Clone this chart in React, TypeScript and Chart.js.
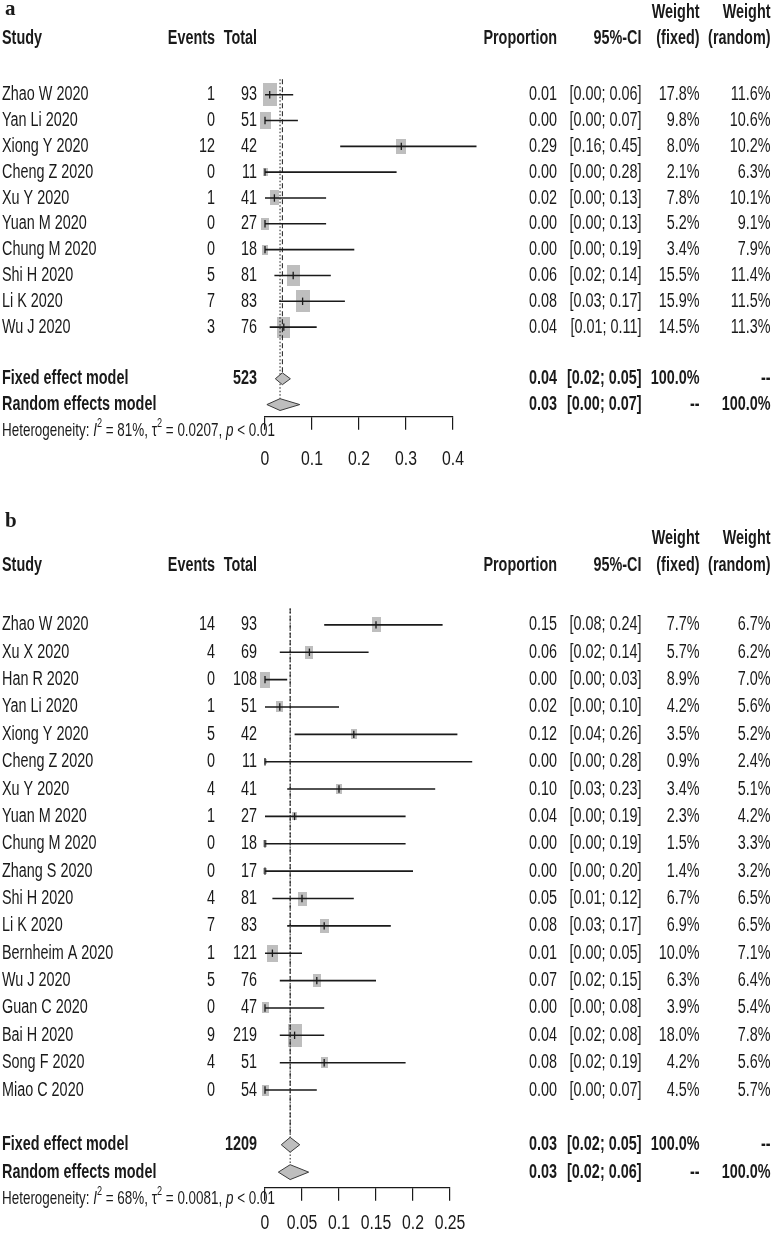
import React, { useEffect, useRef } from 'react';
import { Chart, registerables } from 'chart.js';

Chart.register(...registerables);

// ---------------- Panel a data ----------------
const STUDIES_A = ['Zhao W 2020', 'Yan Li 2020', 'Xiong Y 2020', 'Cheng Z 2020', 'Xu Y 2020', 'Yuan M 2020', 'Chung M 2020', 'Shi H 2020', 'Li K 2020', 'Wu J 2020'];
const EVENTS_A = [1, 0, 12, 0, 1, 0, 0, 5, 7, 3];
const TOTALS_A = [93, 51, 42, 11, 41, 27, 18, 81, 83, 76];
const PROP_A = [0.01, 0.0, 0.29, 0.0, 0.02, 0.0, 0.0, 0.06, 0.08, 0.04];
const LOWER_A = [0.0, 0.0, 0.16, 0.0, 0.0, 0.0, 0.0, 0.02, 0.03, 0.01];
const UPPER_A = [0.06, 0.07, 0.45, 0.28, 0.13, 0.13, 0.19, 0.14, 0.17, 0.11];
const W_FIXED_A = [17.8, 9.8, 8.0, 2.1, 7.8, 5.2, 3.4, 15.5, 15.9, 14.5];
const W_RANDOM_A = [11.6, 10.6, 10.2, 6.3, 10.1, 9.1, 7.9, 11.4, 11.5, 11.3];
const TOTAL_N_A = 523;
const FIXED_A = [0.037, 0.022, 0.054]; // estimate, lower, upper
const RANDOM_A = [0.032, 0.004, 0.074];
const HET_A = ['81%', '0.0207', '< 0.01'];
const TICKS_A = [0, 0.1, 0.2, 0.3, 0.4];
const TICK_LABELS_A = ['0', '0.1', '0.2', '0.3', '0.4'];

// ---------------- Panel b data ----------------
const STUDIES_B = ['Zhao W 2020', 'Xu X 2020', 'Han R 2020', 'Yan Li 2020', 'Xiong Y 2020', 'Cheng Z 2020', 'Xu Y 2020', 'Yuan M 2020', 'Chung M 2020', 'Zhang S 2020', 'Shi H 2020', 'Li K 2020', 'Bernheim A 2020', 'Wu J 2020', 'Guan C 2020', 'Bai H 2020', 'Song F 2020', 'Miao C 2020'];
const EVENTS_B = [14, 4, 0, 1, 5, 0, 4, 1, 0, 0, 4, 7, 1, 5, 0, 9, 4, 0];
const TOTALS_B = [93, 69, 108, 51, 42, 11, 41, 27, 18, 17, 81, 83, 121, 76, 47, 219, 51, 54];
const PROP_B = [0.15, 0.06, 0.0, 0.02, 0.12, 0.0, 0.1, 0.04, 0.0, 0.0, 0.05, 0.08, 0.01, 0.07, 0.0, 0.04, 0.08, 0.0];
const LOWER_B = [0.08, 0.02, 0.0, 0.0, 0.04, 0.0, 0.03, 0.0, 0.0, 0.0, 0.01, 0.03, 0.0, 0.02, 0.0, 0.02, 0.02, 0.0];
const UPPER_B = [0.24, 0.14, 0.03, 0.1, 0.26, 0.28, 0.23, 0.19, 0.19, 0.2, 0.12, 0.17, 0.05, 0.15, 0.08, 0.08, 0.19, 0.07];
const W_FIXED_B = [7.7, 5.7, 8.9, 4.2, 3.5, 0.9, 3.4, 2.3, 1.5, 1.4, 6.7, 6.9, 10.0, 6.3, 3.9, 18.0, 4.2, 4.5];
const W_RANDOM_B = [6.7, 6.2, 7.0, 5.6, 5.2, 2.4, 5.1, 4.2, 3.3, 3.2, 6.5, 6.5, 7.1, 6.4, 5.4, 7.8, 5.6, 5.7];
const TOTAL_N_B = 1209;
const FIXED_B = [0.034, 0.022, 0.047];
const RANDOM_B = [0.034, 0.018, 0.059];
const HET_B = ['68%', '0.0081', '< 0.01'];
const TICKS_B = [0, 0.05, 0.1, 0.15, 0.2, 0.25];
const TICK_LABELS_B = ['0', '0.05', '0.1', '0.15', '0.2', '0.25'];

// ---------------- styling / layout ----------------
const FONT = '"Liberation Sans", Arial, Helvetica, sans-serif';
const INK = '#1a1a1a';
const GRAY = '#BEBEBE';
const SX = 0.72; // horizontal squeeze of the text
const FS = 20;
const SQ_W = 14.3;
const SQ_H = 22.8;
const COL = { study: 2, events: 215, total: 257, prop: 557, ci: 641.5, wf: 699.5, wr: 770.5 };
const PLOT_LEFT = 265;

const LAYOUT_A = { height: 490, row0: 90, rowH: 26.2, axisY: 416.7, pxPerUnit: 470, head1: 12, head2: 38.5, letterY: 15, hetY: 431, tickLabelY: 459, diamondHalf: 6 };
const LAYOUT_B = { height: 750, row0: 130, rowH: 27.6, axisY: 697.7, pxPerUnit: 740, head1: 48, head2: 75.5, letterY: 37, hetY: 709, tickLabelY: 733.7, diamondHalf: 7.5 };

const PANEL_A = {
  letter: 'a', studies: STUDIES_A, events: EVENTS_A, totals: TOTALS_A, prop: PROP_A, lower: LOWER_A, upper: UPPER_A,
  wFixed: W_FIXED_A, wRandom: W_RANDOM_A, totalN: TOTAL_N_A, fixed: FIXED_A, random: RANDOM_A, het: HET_A,
  ticks: TICKS_A, tickLabels: TICK_LABELS_A, layout: LAYOUT_A,
};
const PANEL_B = {
  letter: 'b', studies: STUDIES_B, events: EVENTS_B, totals: TOTALS_B, prop: PROP_B, lower: LOWER_B, upper: UPPER_B,
  wFixed: W_FIXED_B, wRandom: W_RANDOM_B, totalN: TOTAL_N_B, fixed: FIXED_B, random: RANDOM_B, het: HET_B,
  ticks: TICKS_B, tickLabels: TICK_LABELS_B, layout: LAYOUT_B,
};

function rectImage(w: number, h: number) {
  const c = document.createElement('canvas');
  c.width = Math.max(1, Math.round(w));
  c.height = Math.max(1, Math.round(h));
  const g = c.getContext('2d') as CanvasRenderingContext2D;
  g.fillStyle = GRAY;
  g.fillRect(0, 0, c.width, c.height);
  return c;
}

function T(ctx: CanvasRenderingContext2D, s: string, x: number, y: number, align: CanvasTextAlign, bold = false, size = FS, sx = SX) {
  ctx.save();
  ctx.font = `${bold ? 'bold ' : ''}${size}px ${FONT}`;
  ctx.textAlign = align;
  ctx.textBaseline = 'middle';
  ctx.translate(x, y);
  ctx.scale(sx, 1);
  ctx.fillText(s, 0, 0);
  ctx.restore();
}

function drawRich(ctx: CanvasRenderingContext2D, parts: any[], x: number, y: number, size: number, sx: number) {
  let cx = x;
  for (const p of parts) {
    const s = p.sup ? size * 0.68 : size;
    ctx.font = `${p.italic ? 'italic ' : ''}${s}px ${FONT}`;
    const w = ctx.measureText(p.t).width * sx;
    ctx.save();
    ctx.textAlign = 'left';
    ctx.textBaseline = 'middle';
    ctx.translate(cx, y + (p.sup ? -size * 0.4 : 0));
    ctx.scale(sx, 1);
    ctx.fillText(p.t, 0, 0);
    ctx.restore();
    cx += w;
  }
}

const f2 = (v: number) => v.toFixed(2);
const pct = (v: number) => v.toFixed(1) + '%';

function makeTextPlugin(p: any) {
  return {
    id: 'forestText' + p.letter,
    afterDraw(chart: any) {
      const ctx: CanvasRenderingContext2D = chart.ctx;
      const ys = chart.scales.y;
      const xs = chart.scales.x;
      const L = p.layout;
      const n = p.studies.length;
      ctx.save();
      ctx.fillStyle = INK;
      // panel letter
      ctx.font = `bold 21px "Liberation Serif", "Times New Roman", serif`;
      ctx.textAlign = 'left';
      ctx.textBaseline = 'alphabetic';
      ctx.fillText(p.letter, 5, L.letterY);
      // header
      T(ctx, 'Weight', COL.wf, L.head1, 'right', true);
      T(ctx, 'Weight', COL.wr, L.head1, 'right', true);
      T(ctx, 'Study', COL.study, L.head2, 'left', true);
      T(ctx, 'Events', COL.events, L.head2, 'right', true);
      T(ctx, 'Total', COL.total, L.head2, 'right', true);
      T(ctx, 'Proportion', COL.prop, L.head2, 'right', true);
      T(ctx, '95%-CI', COL.ci, L.head2, 'right', true);
      T(ctx, '(fixed)', COL.wf, L.head2, 'right', true);
      T(ctx, '(random)', COL.wr, L.head2, 'right', true);
      // studies
      for (let i = 0; i < n; i++) {
        const y = ys.getPixelForValue(i);
        T(ctx, p.studies[i], COL.study, y, 'left');
        T(ctx, String(p.events[i]), COL.events, y, 'right');
        T(ctx, String(p.totals[i]), COL.total, y, 'right');
        T(ctx, f2(p.prop[i]), COL.prop, y, 'right');
        T(ctx, `[${f2(p.lower[i])}; ${f2(p.upper[i])}]`, COL.ci, y, 'right');
        T(ctx, pct(p.wFixed[i]), COL.wf, y, 'right');
        T(ctx, pct(p.wRandom[i]), COL.wr, y, 'right');
      }
      // summaries
      const yf = ys.getPixelForValue(n + 1);
      T(ctx, 'Fixed effect model', COL.study, yf, 'left', true);
      T(ctx, String(p.totalN), COL.total, yf, 'right', true);
      T(ctx, f2(p.fixed[0]), COL.prop, yf, 'right', true);
      T(ctx, `[${f2(p.fixed[1])}; ${f2(p.fixed[2])}]`, COL.ci, yf, 'right', true);
      T(ctx, '100.0%', COL.wf, yf, 'right', true);
      T(ctx, '--', COL.wr, yf, 'right', true);
      const yr = ys.getPixelForValue(n + 2);
      T(ctx, 'Random effects model', COL.study, yr, 'left', true);
      T(ctx, f2(p.random[0]), COL.prop, yr, 'right', true);
      T(ctx, `[${f2(p.random[1])}; ${f2(p.random[2])}]`, COL.ci, yr, 'right', true);
      T(ctx, '--', COL.wf, yr, 'right', true);
      T(ctx, '100.0%', COL.wr, yr, 'right', true);
      // heterogeneity
      drawRich(ctx, [
        { t: 'Heterogeneity: ' },
        { t: 'I', italic: true },
        { t: '2', sup: true },
        { t: ` = ${p.het[0]}, ` },
        { t: 'τ' },
        { t: '2', sup: true },
        { t: ` = ${p.het[1]}, ` },
        { t: 'p', italic: true },
        { t: ` ${p.het[2]}` },
      ], COL.study, L.hetY, 17.7, 0.76);
      // tick labels
      xs.ticks.forEach((t: any, k: number) => {
        T(ctx, p.tickLabels[k], xs.getPixelForValue(t.value), L.tickLabelY, 'center', false, 20.5, 0.77);
      });
      ctx.restore();
    },
  };
}

function buildConfig(p: any): any {
  const L = p.layout;
  const n = p.studies.length;
  const rowFixed = n + 1;
  const rowRandom = n + 2;
  const yMin = -L.row0 / L.rowH;
  const yMax = yMin + L.axisY / L.rowH;
  const xMax = p.ticks[p.ticks.length - 1];
  const maxW = Math.max(...p.wFixed);
  const squares = p.wFixed.map((w: number) => rectImage(SQ_W * Math.sqrt(w / maxW), SQ_H * Math.sqrt(w / maxW)));
  const ci: any[] = [];
  p.studies.forEach((_: string, i: number) => {
    ci.push({ x: p.lower[i], y: i }, { x: p.upper[i], y: i }, { x: null, y: null });
  });
  const dh = L.diamondHalf / L.rowH;
  const diamond = (s: number[], row: number) => [
    { x: s[1], y: row }, { x: s[0], y: row - dh }, { x: s[2], y: row }, { x: s[0], y: row + dh }, { x: s[1], y: row },
  ];
  const pts = p.prop.map((v: number, i: number) => ({ x: v, y: i }));
  const datasets = [
    { type: 'line', data: diamond(p.fixed, rowFixed), fill: 'shape', backgroundColor: GRAY, borderColor: '#3a3a3a', borderWidth: 1, pointRadius: 0, tension: 0, clip: false, order: 0 },
    { type: 'line', data: diamond(p.random, rowRandom), fill: 'shape', backgroundColor: GRAY, borderColor: '#3a3a3a', borderWidth: 1, pointRadius: 0, tension: 0, clip: false, order: 0 },
    { type: 'scatter', data: pts, pointStyle: 'line', rotation: 90, pointRadius: 3.7, borderColor: INK, borderWidth: 1.3, clip: false, order: 1 },
    { type: 'line', data: ci, borderColor: INK, borderWidth: 1.6, pointRadius: 0, spanGaps: false, tension: 0, fill: false, clip: false, order: 2 },
    { type: 'line', data: [{ x: p.fixed[0], y: -0.6 }, { x: p.fixed[0], y: rowFixed - dh }], borderColor: INK, borderWidth: 1, borderDash: [5, 3], pointRadius: 0, fill: false, clip: false, order: 3 },
    { type: 'line', data: [{ x: p.random[0], y: -0.6 }, { x: p.random[0], y: rowRandom - dh }], borderColor: INK, borderWidth: 1, borderDash: [1.5, 2], pointRadius: 0, fill: false, clip: false, order: 3 },
    { type: 'scatter', data: pts, pointStyle: (c: any) => squares[c.dataIndex], pointRadius: 5, clip: false, order: 4 },
  ];
  return {
    type: 'scatter',
    data: { datasets },
    options: {
      animation: false,
      responsive: false,
      maintainAspectRatio: false,
      events: [],
      layout: {
        padding: {
          left: PLOT_LEFT,
          right: 772 - PLOT_LEFT - xMax * L.pxPerUnit,
          top: 0,
          bottom: L.height - 13 - L.axisY,
        },
      },
      scales: {
        x: {
          type: 'linear',
          position: 'bottom',
          min: 0,
          max: xMax,
          afterBuildTicks: (s: any) => { s.ticks = p.ticks.map((v: number) => ({ value: v })); },
          ticks: { display: false },
          grid: { drawOnChartArea: false, drawTicks: true, tickLength: 13, color: INK, lineWidth: 1.2 },
          border: { display: true, color: INK, width: 1.2 },
        },
        y: { type: 'linear', display: false, reverse: true, min: yMin, max: yMax },
      },
      plugins: { legend: { display: false }, tooltip: { enabled: false } },
    },
    plugins: [makeTextPlugin(p)],
  };
}

function ForestPanel({ panel }: { panel: any }) {
  const ref = useRef<HTMLCanvasElement | null>(null);
  useEffect(() => {
    if (!ref.current) return;
    const chart = new Chart(ref.current, buildConfig(panel));
    return () => chart.destroy();
  }, [panel]);
  const h = panel.layout.height;
  return <canvas ref={ref} width={772} height={h} style={{ display: 'block', width: 772, height: h }} />;
}

export default function App() {
  useEffect(() => {
    document.body.style.margin = '0';
    document.body.style.overflow = 'hidden';
    document.body.style.background = '#fff';
  }, []);
  return (
    <div style={{ width: 772, height: 1240, background: '#fff' }}>
      <ForestPanel panel={PANEL_A} />
      <ForestPanel panel={PANEL_B} />
    </div>
  );
}
